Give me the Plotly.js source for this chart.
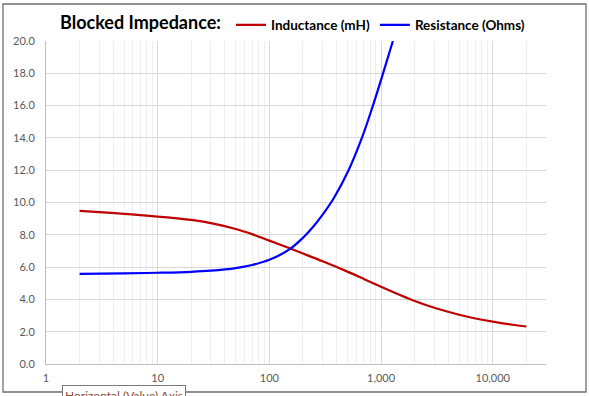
<!DOCTYPE html>
<html>
<head>
<meta charset="utf-8">
<script src="https://cdn.plot.ly/plotly-3.0.1.min.js"></script>
<style>html,body{margin:0;padding:0;background:#fff;}#chart{width:589px;height:396px;}</style>
</head>
<body>
<div id="chart"></div>
<script>
// Frequency (Hz) and values
const indFreq = [2, 3, 5, 7, 10, 15, 20, 30, 50, 70, 100, 150, 200, 300, 500, 700, 1000, 1500, 2000, 3000, 5000, 7000, 10000, 15000, 20000];
const inductance = [9.48, 9.41, 9.30, 9.22, 9.13, 9.02, 8.92, 8.72, 8.36, 8.04, 7.64, 7.18, 6.84, 6.36, 5.72, 5.27, 4.78, 4.25, 3.90, 3.48, 3.05, 2.82, 2.62, 2.43, 2.32];
const resFreq = [2, 5, 10, 20, 30, 50, 70, 100, 150, 200, 250, 300, 376, 512, 674, 846, 1054, 1277];
const resistance = [5.58, 5.61, 5.65, 5.71, 5.78, 5.94, 6.13, 6.45, 7.08, 7.82, 8.55, 9.25, 10.25, 12.0, 14.0, 16.0, 18.1, 20.0];
const xTickVals = [1, 10, 100, 1000, 10000];
const xTickText = ["1", "10", "100", "1,000", "10,000"];
const seriesNames = ["Inductance (mH)", "Resistance (Ohms)"];
const chartTitle = "Blocked Impedance:";
const tooltipText = "Horizontal (Value) Axis";

const FONT = "Lato, 'Open Sans', sans-serif";

const traces = [
  {x: indFreq, y: inductance, name: seriesNames[0], mode: 'lines',
   line: {color: '#C00000', width: 2.2, shape: 'spline', smoothing: 0.8}},
  {x: resFreq, y: resistance, name: seriesNames[1], mode: 'lines',
   line: {color: '#0000FF', width: 2.2, shape: 'spline', smoothing: 1}}
];

const layout = {
  width: 589, height: 396,
  margin: {l: 46, r: 43, t: 41, b: 32, autoexpand: false},
  paper_bgcolor: '#ffffff', plot_bgcolor: '#ffffff',
  font: {family: FONT, color: '#595959'},
  title: {text: '<b>' + chartTitle + '</b>', font: {family: FONT, size: 18, color: '#000000'},
          xref: 'container', yref: 'container', x: 60/589, xanchor: 'left', y: 1 - 23/396, yanchor: 'middle',
          automargin: false},
  showlegend: true,
  legend: {orientation: 'h', x: (231-46)/500, xanchor: 'left', y: (364-25)/323, yanchor: 'middle',
           font: {family: FONT, size: 13.5, color: '#000000', weight: 'bold'},
           bgcolor: 'rgba(0,0,0,0)', itemwidth: 30, tracegroupgap: 0},
  xaxis: {type: 'log', range: [0, Math.log10(30000)],
          tickvals: xTickVals, ticktext: xTickText,
          showgrid: true, gridcolor: '#d9d9d9', gridwidth: 1,
          minor: {dtick: 'D1', showgrid: true, gridcolor: '#eeeeee', gridwidth: 1, ticks: ''},
          showline: true, linecolor: '#bfbfbf', linewidth: 1,
          ticks: '', zeroline: false, tickfont: {family: FONT, size: 11, color: '#595959'},
          ticklabelstandoff: 4, fixedrange: true, automargin: false},
  yaxis: {range: [0, 20], dtick: 2, tickformat: '.1f',
          showgrid: true, gridcolor: '#d9d9d9', gridwidth: 1,
          showline: true, linecolor: '#bfbfbf', linewidth: 1,
          ticks: '', zeroline: false, tickfont: {family: FONT, size: 11, color: '#595959'},
          ticklabelstandoff: 8, fixedrange: true, automargin: false},
  shapes: [
    {type: 'rect', xref: 'paper', yref: 'paper',
     x0: (3-46)/500, x1: (586-46)/500, y0: (364-392)/323, y1: (364-4)/323,
     line: {color: '#6f6f6f', width: 1.3}, fillcolor: 'rgba(0,0,0,0)', layer: 'below'}
  ],
  annotations: [
    {text: tooltipText, xref: 'paper', yref: 'paper', x: (62-46)/500, y: (364-385)/323,
     xanchor: 'left', yanchor: 'top', showarrow: false,
     font: {family: FONT, size: 12, color: '#8B4B3B'},
     bgcolor: '#ffffff', bordercolor: '#7a7a7a', borderwidth: 1, borderpad: 2}
  ]
};

Plotly.newPlot('chart', traces, layout, {displayModeBar: false, staticPlot: true});
</script>
</body>
</html>
